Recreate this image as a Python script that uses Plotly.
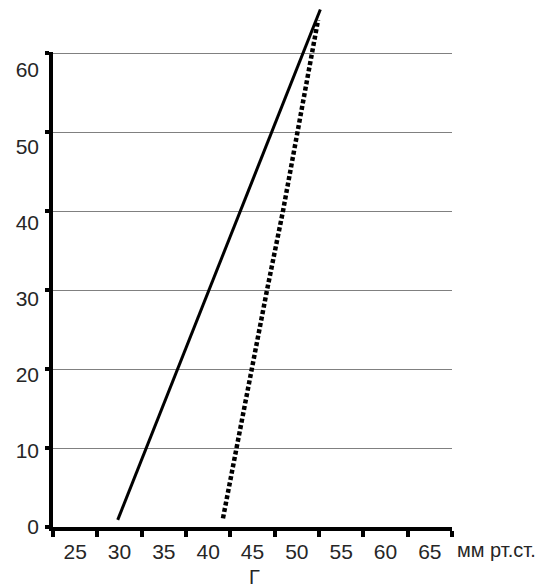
import plotly.graph_objects as go

# Pressure scale (x, мм рт.ст.) and value scale (y)
x_ticks = [25, 30, 35, 40, 45, 50, 55, 60, 65]
y_ticks = [0, 10, 20, 30, 40, 50, 60]

# Solid line: two end points
solid_x = [29.8, 52.65]
solid_y = [0.9, 65.5]

# Dotted line: points read along its length
dotted_x = [41.67, 43.17, 44.86, 46.64, 48.44, 50.09, 51.83, 52.4]
dotted_y = [1.1, 10, 20, 30, 40, 50, 60, 64.2]

FONT = "Arial, Liberation Sans, sans-serif"
TXT = "#262626"

# plot area geometry (px)
L, R, T, B = 53, 95, 5, 60
W, H = 547, 587
plot_h = H - T - B
px_per_unit = 7.9
data_top = plot_h / px_per_unit            # y range of the drawing axis
grid_top = 60.15                           # a hair above 60 so the top grid line is kept
grid_frac = grid_top * px_per_unit / plot_h
label_frac = 0.8755                        # tick labels sit on a slightly shorter scale

fig = go.Figure()

# invisible anchors so the helper axes are rendered
fig.add_trace(go.Scatter(x=[None], y=[None], xaxis="x", yaxis="y",
                         showlegend=False, hoverinfo="skip"))
fig.add_trace(go.Scatter(x=[None], y=[None], xaxis="x", yaxis="y3",
                         showlegend=False, hoverinfo="skip"))

fig.add_trace(go.Scatter(
    x=solid_x, y=solid_y, xaxis="x", yaxis="y2", mode="lines",
    line=dict(color="black", width=3), showlegend=False, hoverinfo="skip"))
fig.add_trace(go.Scatter(
    x=dotted_x, y=dotted_y, xaxis="x", yaxis="y2", mode="lines",
    line=dict(color="black", width=4.5, dash="4px,2.5px"),
    showlegend=False, hoverinfo="skip"))

fig.update_layout(
    width=W, height=H,
    margin=dict(l=L, r=R, t=T, b=B, pad=0, autoexpand=False),
    paper_bgcolor="white", plot_bgcolor="rgba(0,0,0,0)",
    font=dict(family=FONT, color=TXT),
    showlegend=False,
    xaxis=dict(
        range=[22.5, 67.5], domain=[0, 1], anchor="y", automargin=False,
        showline=True, linecolor="black", linewidth=4,
        showgrid=False, zeroline=False,
        tickmode="array", tickvals=x_ticks, ticktext=[str(v) for v in x_ticks],
        ticks="", tickfont=dict(size=21, color=TXT, family=FONT),
        ticklabelstandoff=3,
        minor=dict(tick0=22.5, dtick=5, ticks="outside", ticklen=6,
                   tickwidth=4, tickcolor="black", showgrid=False),
    ),
    yaxis=dict(
        range=[0, grid_top], domain=[0, grid_frac], anchor="x", automargin=False,
        showline=True, linecolor="black", linewidth=4,
        showgrid=True, gridcolor="#808080", gridwidth=1, zeroline=False,
        tickmode="array", tickvals=y_ticks,
        ticks="outside", ticklen=4, tickwidth=4, tickcolor="black",
        showticklabels=False,
    ),
    yaxis2=dict(
        range=[0, data_top], domain=[0, 1], anchor="x", visible=False,
        automargin=False,
    ),
    yaxis3=dict(
        range=[0, 60], domain=[0, label_frac], anchor="x", automargin=False,
        showline=False, showgrid=False, zeroline=False,
        tickmode="array", tickvals=y_ticks, ticktext=[str(v) for v in y_ticks],
        ticks="", tickfont=dict(size=21, color=TXT, family=FONT),
        ticklabelstandoff=13,
    ),
    annotations=[
        dict(text="мм рт.ст.", xref="paper", yref="paper", x=1, y=0,
             xanchor="left", yanchor="middle", xshift=3, yshift=-23,
             showarrow=False, font=dict(size=20, color=TXT, family=FONT)),
        dict(text="Г", xref="paper", yref="paper", x=0.506, y=0,
             xanchor="center", yanchor="middle", yshift=-50,
             showarrow=False, font=dict(size=20, color=TXT, family=FONT)),
    ],
)

fig.write_html("out.html")
